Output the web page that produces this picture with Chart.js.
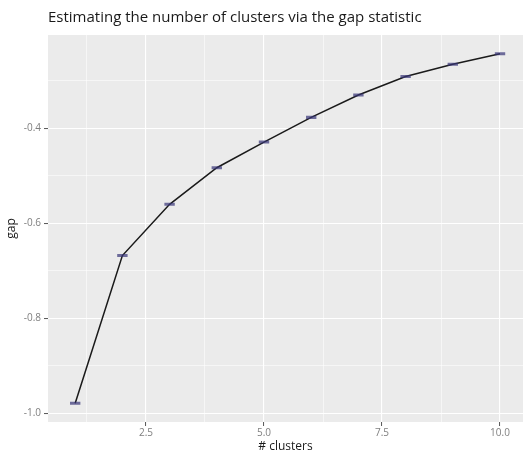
<!DOCTYPE html>
<html><head><meta charset="utf-8">
<script src="https://cdn.jsdelivr.net/npm/chart.js@4/dist/chart.umd.min.js"></script>
<style>html,body{margin:0;padding:0;background:#fff;} #wrap{width:523px;height:455px;position:relative;}</style>
</head><body><div id="wrap"><canvas id="c" width="523" height="455"></canvas></div>
<script>
const clusters = [1, 2, 3, 4, 5, 6, 7, 8, 9, 10];
const gapValues = [-0.979, -0.668, -0.560, -0.483, -0.429, -0.377, -0.330, -0.291, -0.265, -0.243];
const gapSE = [0.0015, 0.0015, 0.0015, 0.0015, 0.0015, 0.0015, 0.0015, 0.0015, 0.0015, 0.0015];
const xMajorTicks = [2.5, 5.0, 7.5, 10.0];
const xMinorTicks = [1.25, 3.75, 6.25, 8.75];
const yMajorTicks = [-1.0, -0.8, -0.6, -0.4];
const yMinorTicks = [-0.9, -0.7, -0.5, -0.3];
const titleText = 'Estimating the number of clusters via the gap statistic';
const xTitle = '# clusters';
const yTitle = 'gap';

const FONT = "'Open Sans', 'DejaVu Sans', sans-serif";
const isMajor = (v, list) => list.some(m => Math.abs(m - v) < 1e-9);

const panelBg = {
  id: 'panelBg',
  beforeDraw(chart) {
    const {ctx, chartArea: a} = chart;
    ctx.save();
    ctx.fillStyle = '#EBEBEB';
    ctx.fillRect(a.left, a.top, a.right - a.left, a.bottom - a.top);
    ctx.restore();
  }
};

const errorBars = {
  id: 'errorBars',
  afterDatasetsDraw(chart) {
    const {ctx, scales: {x, y}} = chart;
    ctx.save();
    ctx.strokeStyle = 'rgba(55,52,120,0.7)';
    ctx.lineWidth = 1.6;
    const hw = 0.11;
    clusters.forEach((c, i) => {
      const lo = y.getPixelForValue(gapValues[i] - gapSE[i]);
      const hi = y.getPixelForValue(gapValues[i] + gapSE[i]);
      const x0 = x.getPixelForValue(c - hw), x1 = x.getPixelForValue(c + hw), xc = x.getPixelForValue(c);
      ctx.beginPath();
      ctx.moveTo(x0, lo); ctx.lineTo(x1, lo);
      ctx.moveTo(x0, hi); ctx.lineTo(x1, hi);
      ctx.moveTo(xc, lo); ctx.lineTo(xc, hi);
      ctx.stroke();
    });
    ctx.restore();
  }
};

new Chart(document.getElementById('c'), {
  type: 'line',
  data: {
    datasets: [{
      data: clusters.map((c, i) => ({x: c, y: gapValues[i]})),
      borderColor: '#1a1a1a',
      borderWidth: 1.5,
      pointRadius: 0,
      tension: 0,
      fill: false
    }]
  },
  options: {
    responsive: false,
    animation: false,
    layout: {padding: 0},
    plugins: {
      legend: {display: false},
      tooltip: {enabled: false},
      title: {
        display: true,
        text: titleText,
        align: 'start',
        fullSize: false,
        color: '#1a1a1a',
        font: {family: FONT, size: 15, weight: 'normal'},
        padding: {top: 9, bottom: 8}
      }
    },
    scales: {
      x: {
        type: 'linear',
        min: 0.424,
        max: 10.487,
        afterBuildTicks(s) {
          s.ticks = [...xMinorTicks, ...xMajorTicks].sort((a, b) => a - b).map(v => ({value: v}));
        },
        afterFit(s) { s.height = 33; },
        ticks: {
          autoSkip: false,
          maxRotation: 0,
          padding: 1,
          color: '#7f7f7f',
          font: {family: FONT, size: 10},
          callback: v => isMajor(v, xMajorTicks) ? v.toFixed(1) : ''
        },
        grid: {
          color: '#FFFFFF',
          lineWidth: c => isMajor(c.tick.value, xMajorTicks) ? 1.1 : 0.55,
          tickLength: 4,
          tickColor: c => isMajor(c.tick.value, xMajorTicks) ? '#555555' : 'rgba(0,0,0,0)',
          tickWidth: 1
        },
        border: {display: false},
        title: {
          display: true,
          text: xTitle,
          color: '#1a1a1a',
          font: {family: FONT, size: 12},
          padding: {top: 0, bottom: 1}
        }
      },
      y: {
        type: 'linear',
        min: -1.0183,
        max: -0.2036,
        afterBuildTicks(s) {
          s.ticks = [...yMajorTicks, ...yMinorTicks].sort((a, b) => a - b).map(v => ({value: v}));
        },
        afterFit(s) { s.width = 48; },
        ticks: {
          autoSkip: false,
          padding: 3,
          color: '#7f7f7f',
          font: {family: FONT, size: 10},
          callback: v => isMajor(v, yMajorTicks) ? v.toFixed(1) : ''
        },
        grid: {
          color: '#FFFFFF',
          lineWidth: c => isMajor(c.tick.value, yMajorTicks) ? 1.1 : 0.55,
          tickLength: 4,
          tickColor: c => isMajor(c.tick.value, yMajorTicks) ? '#555555' : 'rgba(0,0,0,0)',
          tickWidth: 1
        },
        border: {display: false},
        title: {
          display: true,
          text: yTitle,
          color: '#1a1a1a',
          font: {family: FONT, size: 12},
          padding: {top: 4, bottom: 0}
        }
      }
    }
  },
  plugins: [panelBg, errorBars]
});
</script>
</body></html>
